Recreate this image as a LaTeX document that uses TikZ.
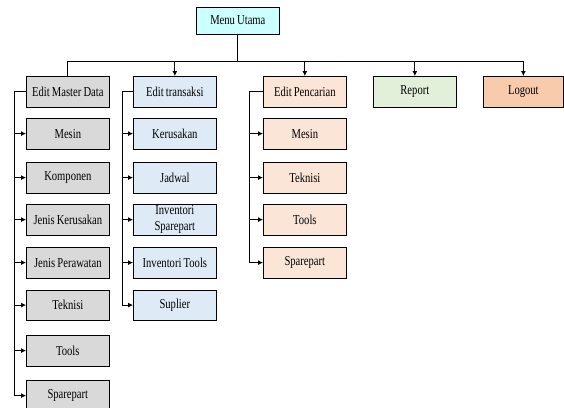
\documentclass[tikz,border=0pt]{standalone}
\usepackage{fontspec}
\setmainfont{Liberation Serif}[FakeStretch=0.78,WordSpace=0.8]
\usetikzlibrary{arrows.meta,shadows}
\definecolor{cMenu}{HTML}{CCFFFF}
\definecolor{cMaster}{HTML}{D9D9D9}
\definecolor{cTrans}{HTML}{DEEBF7}
\definecolor{cCari}{HTML}{FBE5D6}
\definecolor{cReport}{HTML}{E2F0D9}
\definecolor{cLogout}{HTML}{F8CBAD}
\begin{document}
\begin{tikzpicture}[x=1pt,y=-1pt,
  box/.style={draw=black, line width=0.7pt, minimum width=83pt, minimum height=30.5pt,
    inner sep=1pt, anchor=north west, align=center,
    font=\fontsize{13.6}{16}\selectfont,
    drop shadow={shadow xshift=1pt, shadow yshift=-1pt, opacity=0.35, fill=black}},
  ln/.style={line width=0.8pt, draw=black},
  arr/.style={ln, -{Latex[length=5pt,width=5pt]}}]
\useasboundingbox (0,0) rectangle (564,407);

% top
\node[box, fill=cMenu, minimum height=26.5pt] (menu) at (196,7) {Menu Utama};

% level 1
\node[box, fill=cMaster] (emd) at (26,76) {Edit Master Data};
\node[box, fill=cTrans] (etr) at (133,76) {Edit transaksi};
\node[box, fill=cCari] (epc) at (263,76) {Edit Pencarian};
\node[box, fill=cReport] (rep) at (373,76) {Report};
\node[box, fill=cLogout, minimum width=80pt] (log) at (483,76) {Logout};

% master children
\node[box, fill=cMaster] (m1) at (26,118) {Mesin};
\node[box, fill=cMaster] (m2) at (26,162) {Komponen};
\node[box, fill=cMaster] (m3) at (26,204) {Jenis Kerusakan};
\node[box, fill=cMaster] (m4) at (26,247) {Jenis Perawatan};
\node[box, fill=cMaster] (m5) at (26,289.5) {Teknisi};
\node[box, fill=cMaster] (m6) at (26,335) {Tools};
\node[box, fill=cMaster] (m7) at (26,380) {Sparepart};

% transaksi children
\node[box, fill=cTrans] (t1) at (133,118) {Kerusakan};
\node[box, fill=cTrans] (t2) at (133,162) {Jadwal};
\node[box, fill=cTrans] (t3) at (133,204) {Inventori\\Sparepart};
\node[box, fill=cTrans] (t4) at (133,247) {Inventori Tools};
\node[box, fill=cTrans] (t5) at (133,289.5) {Suplier};

% pencarian children
\node[box, fill=cCari] (p1) at (263,118) {Mesin};
\node[box, fill=cCari] (p2) at (263,162) {Teknisi};
\node[box, fill=cCari] (p3) at (263,204) {Tools};
\node[box, fill=cCari] (p4) at (263,247) {Sparepart};

% bus
\path (menu.south) ++(0,27) coordinate (bus);
\draw[ln] (menu.south) -- (bus);
\draw[ln] (emd.north) |- (bus);
\draw[arr] (bus) -| (log.north);
\draw[arr] (etr.north |- bus) -- (etr.north);
\draw[arr] (epc.north |- bus) -- (epc.north);
\draw[arr] (rep.north |- bus) -- (rep.north);

% master rail
\draw[arr] (emd.west) -- ++(-12,0) coordinate (rm) |- (m7.west);
\foreach \n in {m1,m2,m3,m4,m5,m6} \draw[arr] (rm |- \n.west) -- (\n.west);

% transaksi rail
\draw[arr] (etr.west) -- ++(-11,0) coordinate (rt) |- (t5.west);
\foreach \n in {t1,t2,t3,t4} \draw[arr] (rt |- \n.west) -- (\n.west);

% pencarian rail
\draw[arr] (epc.west) -- ++(-14,0) coordinate (rp) |- (p4.west);
\foreach \n in {p1,p2,p3} \draw[arr] (rp |- \n.west) -- (\n.west);
\end{tikzpicture}
\end{document}
